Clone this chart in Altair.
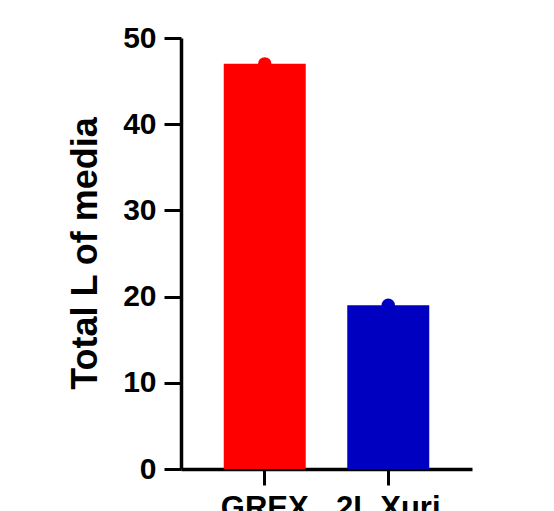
import altair as alt
import pandas as pd

categories = ["GREX", "2L Xuri"]
values = [47, 19]
colors = ["#FF0000", "#0000C0"]

df = pd.DataFrame({"group": categories, "value": values, "color": colors})

FONT = "Liberation Sans"

x_enc = alt.X(
    "group:N",
    sort=categories,
    scale=alt.Scale(paddingInner=0.336, paddingOuter=0.346),
    axis=alt.Axis(
        title=None,
        labelAngle=0,
        labelFont=FONT,
        labelFontSize=31,
        labelFontWeight="bold",
        labelColor="black",
        labelPadding=8,
        tickSize=16,
        tickWidth=3,
        tickColor="black",
        domainColor="black",
        domainWidth=3.5,
        grid=False,
    ),
)

y_enc = alt.Y(
    "value:Q",
    scale=alt.Scale(domain=[0, 50], nice=False),
    axis=alt.Axis(
        title="Total L of media",
        values=[0, 10, 20, 30, 40, 50],
        labelFont=FONT,
        labelFontSize=30,
        labelFontWeight="bold",
        labelColor="black",
        labelPadding=8,
        tickSize=17,
        tickWidth=3,
        tickColor="black",
        domainColor="black",
        domainWidth=3.5,
        grid=False,
        titleFont=FONT,
        titleFontSize=36,
        titleFontWeight="bold",
        titleColor="black",
        titleBaseline="middle",
        titleX=-96,
        titleY=215,
        titleAngle=270,
    ),
)

color_enc = alt.Color("color:N", scale=None)

bars = alt.Chart(df).mark_bar(size=82).encode(x=x_enc, y=y_enc, color=color_enc)
dots = alt.Chart(df).mark_circle(size=180, opacity=1).encode(x=x_enc, y=y_enc, color=color_enc)

chart = (
    alt.layer(bars, dots)
    .properties(
        width=291,
        height=431,
        background="white",
        autosize=alt.AutoSizeParams(type="none"),
        padding={"left": 173, "top": 30, "right": 60, "bottom": 60},
    )
    .configure_view(stroke="transparent", strokeWidth=0)
)

chart.save("out.html", embed_options={"renderer": "svg", "actions": False})
